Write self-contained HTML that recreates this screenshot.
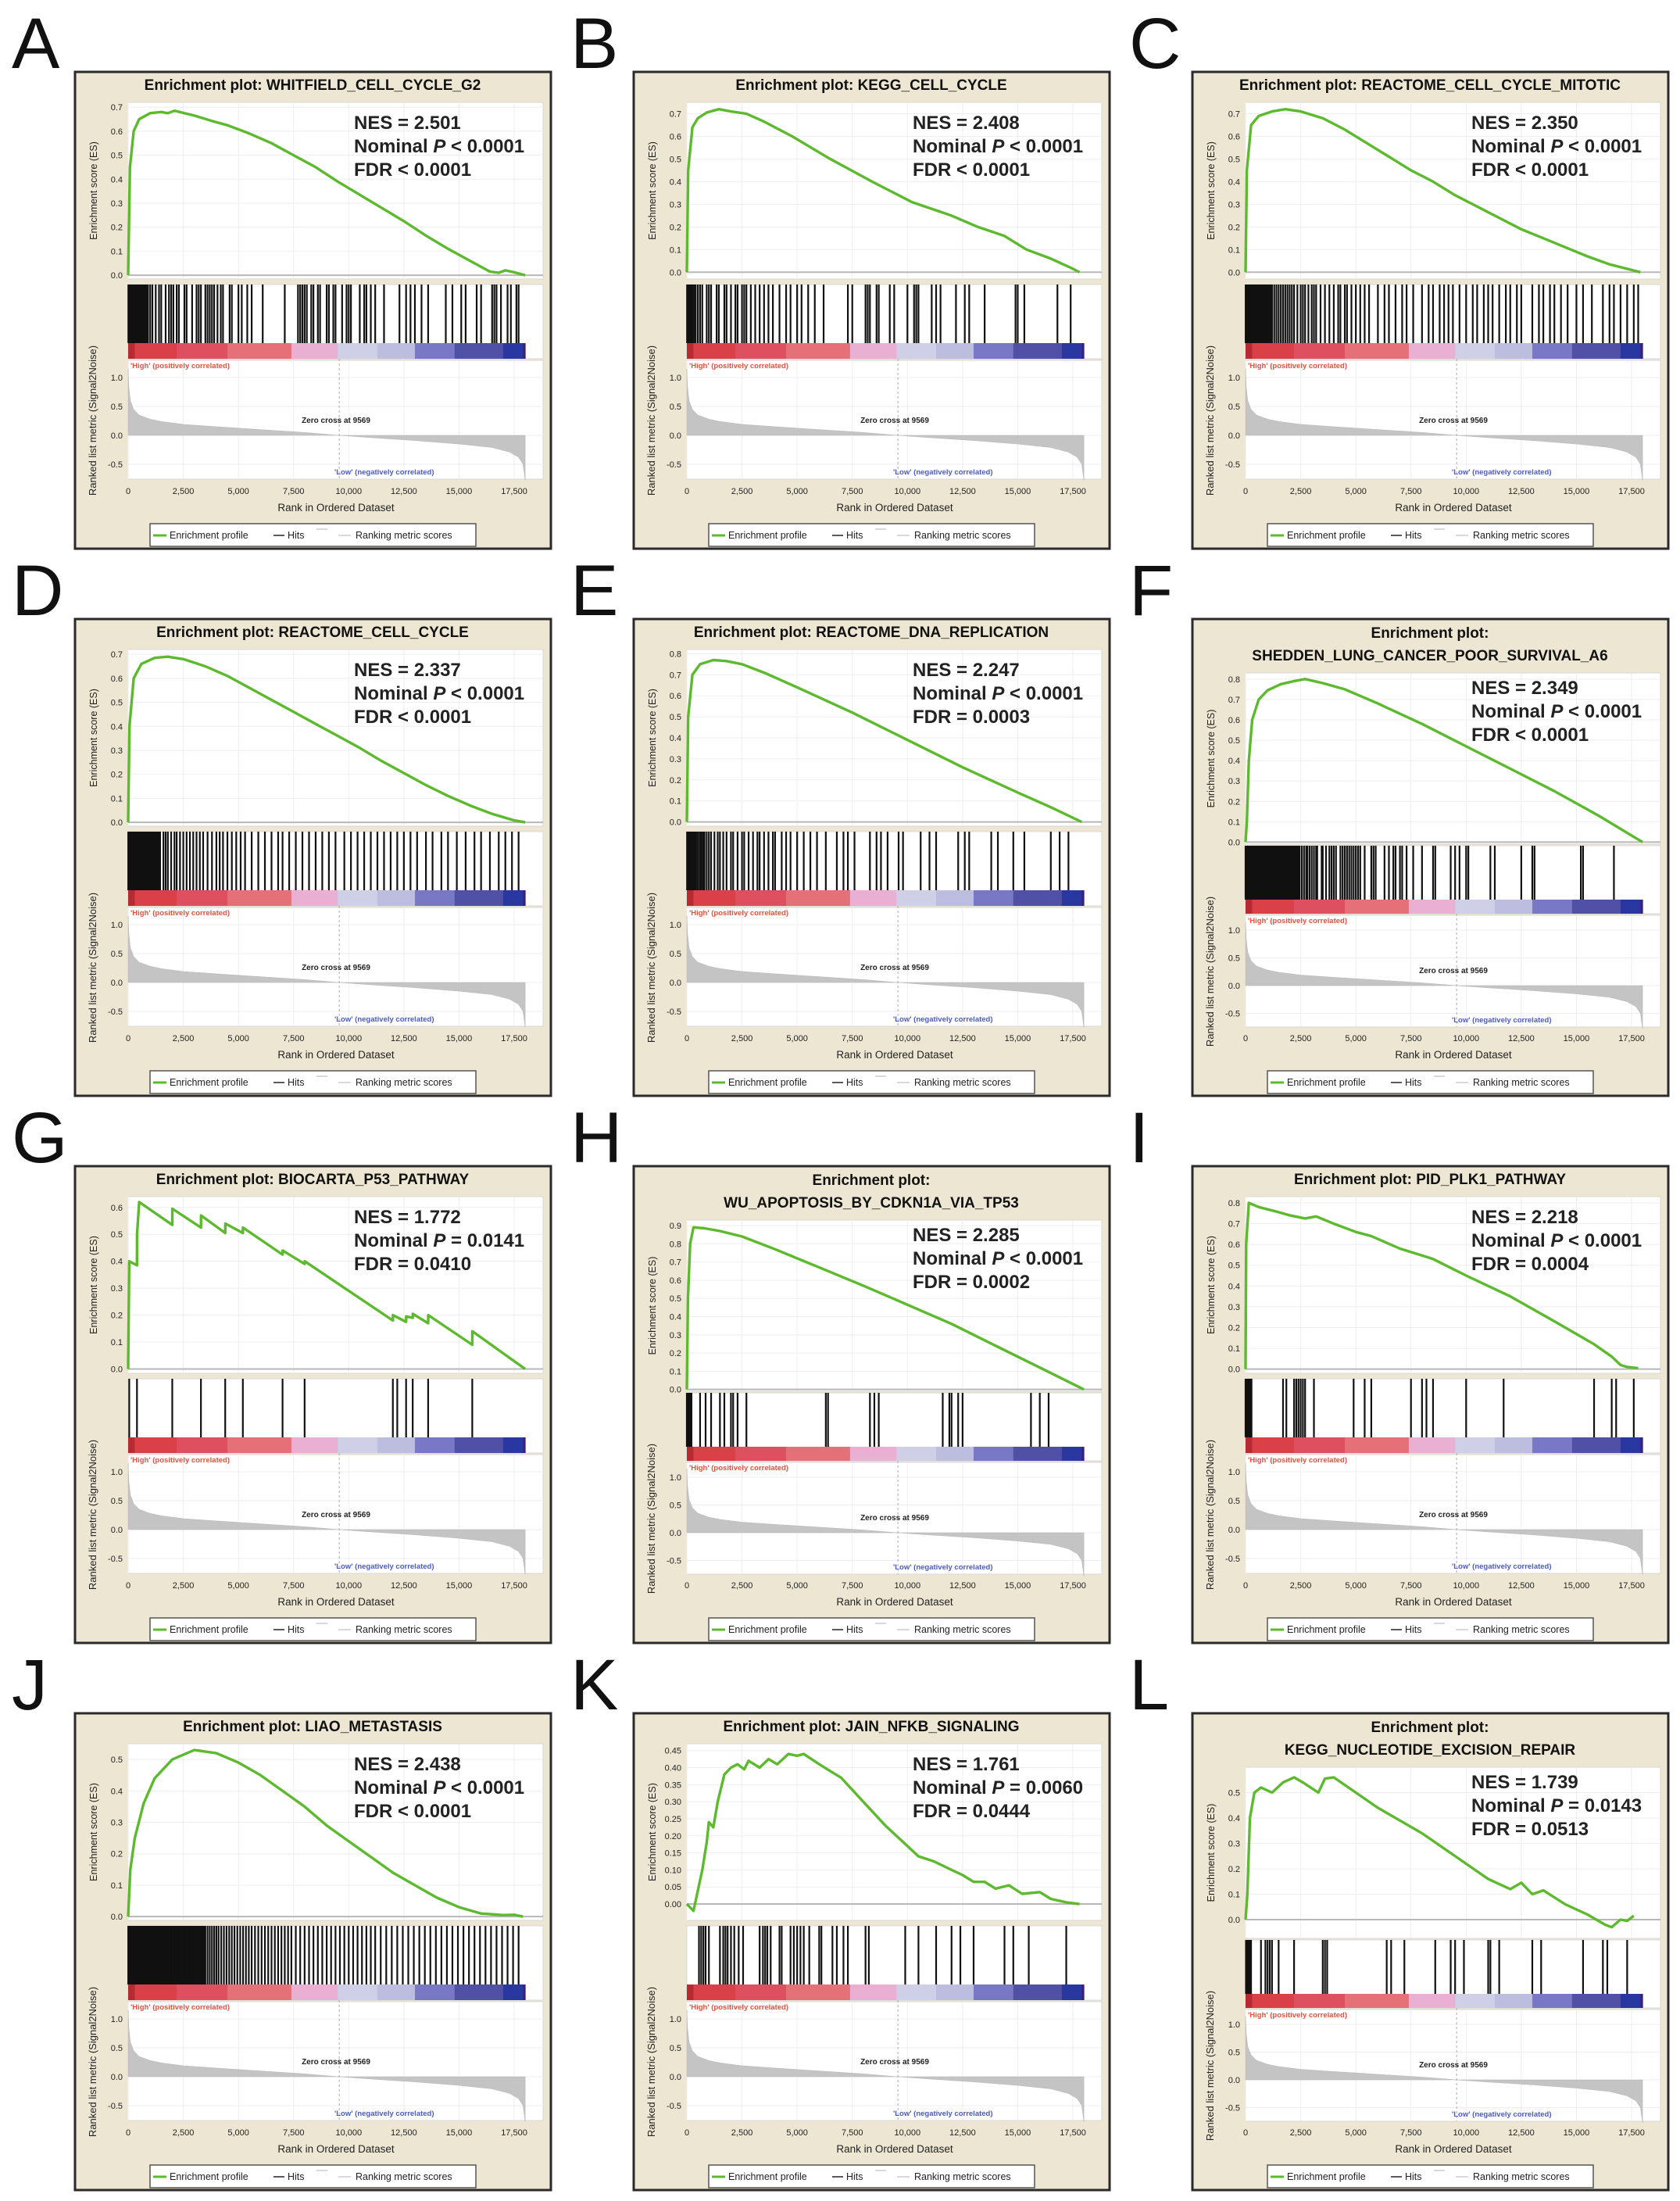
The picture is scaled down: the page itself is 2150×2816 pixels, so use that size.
<!DOCTYPE html>
<html><head><meta charset="utf-8"><style>
html,body{margin:0;padding:0;background:#fff}
svg{display:block}
text{font-family:"Liberation Sans",Arial,sans-serif}
</style></head><body>
<svg id="fig" xmlns="http://www.w3.org/2000/svg" width="2150" height="2816" viewBox="0 0 2150 2816"></svg>
<script>
// ---- shared data ----
const metricRanks = [0,30,100,250,500,1000,1500,2500,4000,6000,8000,9569,11000,13000,15000,16500,17300,17700,17900,18000];
const metricValues = [1.15,0.85,0.6,0.45,0.35,0.28,0.24,0.19,0.15,0.1,0.05,0,-0.04,-0.09,-0.15,-0.21,-0.29,-0.38,-0.5,-0.78];
const xTickValues = [0,2500,5000,7500,10000,12500,15000,17500];
const xTickLabels = ["0","2,500","5,000","7,500","10,000","12,500","15,000","17,500"];
const rTickValues = [1.0,0.5,0.0,-0.5];
const rTickLabels = ["1.0","0.5","0.0","-0.5"];
const barStops = [0,300,2200,4500,7400,9500,11300,13000,14800,17000,17900,18000];
const barColors = ["#b82a32","#d94048","#de5060","#e57078","#e9b0d4","#cfcfe8","#bdbde0","#7878c6","#5050a6","#2838a0","#3a1e80"];
const zeroCross = 9569;

// ---- per panel data ----
const esA = [[0,0],[80,0.45],[250,0.6],[500,0.65],[1000,0.675],[1500,0.68],[1800,0.675],[2100,0.685],[3000,0.665],[3900,0.64],[4500,0.625],[5500,0.59],[6500,0.55],[7500,0.5],[8500,0.45],[9500,0.39],[10500,0.335],[11500,0.28],[12500,0.225],[13500,0.165],[14500,0.11],[15500,0.06],[16400,0.015],[16800,0.01],[17100,0.02],[17500,0.012],[18000,0]];
const hitsA = [10,30,50,70,90,110,130,150,170,190,210,240,260,280,310,330,360,380,400,420,450,470,500,520,560,600,640,680,720,750,790,820,860,900,1000,1100,1250,1400,1500,1700,1850,1950,2050,2200,2300,2550,2650,2900,3100,3200,3300,3500,3600,3700,3800,3900,4050,4200,4300,4600,4700,5000,5150,5400,5600,6100,7100,7700,7800,7900,8000,8100,8300,8400,8600,8700,9000,9100,9300,9400,9700,9900,10000,10100,10500,10700,10800,11000,11200,11600,12300,12600,12800,13000,13300,13600,14400,14700,15100,15300,15800,16000,16500,16600,16700,16900,17200,17350,17600,17700];
const esB = [[0,0],[60,0.45],[250,0.64],[500,0.68],[900,0.705],[1450,0.72],[2000,0.71],[2700,0.7],[3500,0.665],[4780,0.6],[6500,0.5],[8400,0.4],[10200,0.31],[12000,0.25],[13200,0.2],[14400,0.16],[15400,0.1],[16500,0.06],[17400,0.02],[17800,0]];
const hitsB = [10,50,100,150,200,260,330,400,500,600,700,900,1000,1100,1350,1450,1700,1800,2000,2200,2300,2500,2600,2700,2900,3100,3300,3500,3700,3900,4200,4500,4700,5000,5200,5500,5800,6200,7300,7500,8100,8200,8300,8600,8700,9200,9400,10000,10300,10400,10500,11100,11300,11500,12200,12600,12800,13500,14900,15000,15300,16800,17400];
const esC = [[0,0],[60,0.45],[250,0.65],[600,0.69],[1200,0.71],[1800,0.72],[2500,0.71],[3500,0.68],[4500,0.63],[5500,0.57],[6500,0.51],[7500,0.45],[8500,0.4],[9500,0.34],[10500,0.29],[11500,0.24],[12500,0.19],[13500,0.15],[14500,0.11],[15500,0.07],[16500,0.035],[17500,0.01],[17900,0]];
const hitsC = [5,15,25,40,50,65,80,95,110,125,140,155,170,185,200,220,240,260,280,300,320,340,360,380,400,425,450,475,500,525,550,575,600,625,650,675,700,730,760,790,820,850,880,915,950,1000,1050,1100,1150,1200,1300,1400,1500,1600,1700,1800,1900,2000,2100,2200,2350,2500,2600,2700,2850,3000,3100,3200,3400,3600,3800,4000,4200,4300,4500,4600,4800,5000,5200,5400,5600,6000,6300,6500,6800,7100,7300,7600,8000,8300,8500,8800,9000,9200,9400,9700,10000,10300,10500,10800,11000,11200,11500,11800,12000,12300,12500,13000,13300,13500,13800,14000,14300,14600,15000,15300,15700,16200,16500,16700,17000,17300,17600,17800];
const esD = [[0,0],[60,0.4],[250,0.6],[600,0.66],[1200,0.685],[1800,0.69],[2500,0.68],[3500,0.65],[4500,0.61],[5500,0.56],[6500,0.51],[7500,0.46],[8500,0.41],[9500,0.36],[10500,0.31],[11500,0.255],[12500,0.205],[13500,0.155],[14500,0.11],[15500,0.07],[16500,0.035],[17500,0.008],[18000,0]];
const hitsD = [5,20,30,45,60,75,90,105,120,135,150,170,190,210,230,250,270,290,310,330,350,375,400,425,450,475,500,530,560,590,620,650,680,710,740,770,800,835,870,910,950,1000,1050,1100,1150,1200,1250,1300,1350,1400,1450,1600,1700,1800,1950,2100,2200,2350,2500,2650,2800,2950,3100,3250,3400,3600,3800,4000,4150,4300,4500,4700,4900,5100,5300,5600,5900,6200,6500,6800,7000,7300,7600,7900,8200,8500,8800,9100,9400,9800,10100,10400,10700,11000,11300,11600,11900,12200,12500,12800,13100,13500,13800,14200,14500,14900,15300,15700,16000,16400,16800,17100,17400,17700];
const esE = [[0,0],[60,0.5],[250,0.7],[600,0.75],[1200,0.77],[1800,0.765],[2500,0.75],[3500,0.71],[5000,0.64],[7500,0.52],[10000,0.39],[12500,0.26],[15000,0.14],[16500,0.07],[17900,0]];
const hitsE = [10,40,80,120,160,200,250,300,360,420,500,580,650,730,800,900,1000,1100,1250,1400,1500,1650,1800,2000,2100,2300,2500,2600,2800,3000,3200,3300,3500,3700,3900,4000,4300,4500,4700,5000,5300,5600,5900,6300,6800,7100,7300,7600,8300,8600,8800,9100,9600,9800,10600,11000,11300,12300,12600,12800,13800,14100,14800,15300,16500,16900,17300];
const esF = [[0,0],[60,0.1],[150,0.4],[300,0.6],[600,0.7],[1000,0.745],[1600,0.775],[2200,0.79],[2700,0.8],[3500,0.78],[4500,0.75],[6000,0.68],[8000,0.58],[10000,0.47],[12000,0.36],[14000,0.25],[16000,0.13],[18000,0]];
const hitsF = [0,20,40,60,80,100,120,140,160,180,200,220,240,260,280,300,320,340,360,380,400,420,440,460,480,500,520,540,560,580,600,620,640,660,680,700,720,740,760,780,800,820,840,860,880,900,920,940,960,980,1000,1025,1050,1075,1100,1125,1150,1175,1200,1225,1250,1275,1300,1325,1350,1375,1400,1425,1450,1475,1500,1525,1550,1575,1600,1625,1650,1675,1700,1725,1750,1775,1800,1825,1850,1875,1900,1925,1950,1975,2000,2025,2050,2075,2100,2125,2150,2175,2200,2250,2300,2350,2400,2450,2550,2650,2750,2800,2900,3000,3100,3200,3250,3450,3500,3650,3800,3900,4000,4100,4300,4400,4500,4600,4700,4800,4900,5000,5100,5200,5400,5700,5800,5900,6300,6500,6700,6800,7000,7100,7300,7600,8000,8500,8600,9300,9500,9700,10000,10100,11100,11300,12500,13000,13100,15200,15300,16700];
const esG = [[0,0],[50,0.4],[400,0.385],[405,0.5],[500,0.62],[2000,0.535],[2005,0.595],[3300,0.525],[3305,0.57],[4400,0.505],[4405,0.54],[5200,0.505],[5205,0.525],[7000,0.425],[7005,0.44],[8000,0.39],[8005,0.4],[12000,0.18],[12005,0.2],[12600,0.175],[12605,0.195],[12900,0.19],[12905,0.205],[13600,0.17],[13605,0.2],[15600,0.09],[15605,0.14],[18000,0]];
const hitsG = [50,400,2000,3300,4400,5200,7000,8000,12000,12200,12600,12900,13600,15600];
const esH = [[0,0],[50,0.5],[150,0.8],[300,0.89],[800,0.885],[1500,0.87],[2500,0.84],[4000,0.77],[6000,0.67],[8000,0.57],[10000,0.465],[12000,0.36],[14000,0.24],[16000,0.12],[18000,0]];
const hitsH = [0,20,40,60,80,100,120,150,180,210,600,850,1100,1500,1700,2000,2100,2300,2700,6300,6400,8300,8500,8700,11600,11900,12000,12300,12500,15600,16000,16400];
const esI = [[0,0],[30,0.6],[150,0.8],[600,0.78],[1500,0.755],[2000,0.74],[2700,0.725],[3200,0.735],[4000,0.7],[5000,0.66],[5700,0.64],[7000,0.58],[8500,0.53],[10000,0.45],[12000,0.35],[14000,0.23],[15800,0.12],[16600,0.06],[17000,0.02],[17300,0.01],[17800,0.005]];
const hitsI = [0,30,60,90,120,150,180,210,240,270,1700,1850,2200,2300,2400,2500,2600,2700,3100,4900,5400,5700,7500,8000,8200,8500,10000,11700,15800,16600,16800,17600];
const esJ = [[0,0],[100,0.15],[300,0.25],[700,0.36],[1200,0.44],[2000,0.5],[3000,0.53],[4000,0.52],[5000,0.49],[6000,0.45],[7000,0.4],[8000,0.35],[9000,0.29],[10000,0.24],[11000,0.19],[12000,0.14],[13000,0.1],[14000,0.06],[15000,0.03],[16000,0.01],[17000,0.005],[17500,0.006],[17900,0]];
const hitsJ = [5,20,40,60,80,100,120,140,160,180,200,220,240,260,280,300,320,340,360,380,400,425,450,475,500,525,550,575,600,625,650,675,700,725,750,775,800,825,850,875,900,925,950,975,1000,1030,1060,1090,1120,1150,1180,1210,1240,1270,1300,1335,1370,1405,1440,1475,1510,1545,1580,1615,1650,1685,1720,1760,1800,1840,1880,1920,1960,2000,2040,2080,2120,2160,2200,2240,2280,2320,2360,2400,2450,2500,2540,2590,2630,2680,2720,2770,2810,2860,2900,2950,3000,3050,3100,3150,3200,3250,3300,3350,3400,3450,3500,3600,3700,3800,3900,4000,4100,4220,4340,4460,4580,4700,4820,4950,5080,5210,5340,5470,5600,5750,5900,6050,6200,6350,6500,6650,6800,6950,7100,7250,7400,7600,7800,8000,8200,8400,8600,8800,9000,9200,9400,9600,9800,10000,10200,10400,10600,10800,11000,11200,11450,11700,11950,12200,12450,12700,12950,13200,13450,13700,13950,14200,14450,14700,14950,15200,15450,15700,15950,16200,16450,16700,16950,17200,17450,17700];
const esK = [[0,0],[300,-0.02],[700,0.1],[900,0.18],[1000,0.24],[1200,0.225],[1400,0.3],[1700,0.38],[2000,0.4],[2300,0.41],[2600,0.395],[2800,0.42],[3300,0.4],[3700,0.425],[4100,0.41],[4600,0.44],[5000,0.435],[5300,0.44],[6000,0.41],[6500,0.39],[7000,0.37],[8000,0.3],[9000,0.23],[10000,0.17],[10500,0.14],[11200,0.125],[12000,0.1],[12500,0.085],[13000,0.065],[13500,0.065],[14000,0.045],[14600,0.055],[15200,0.03],[16000,0.035],[16500,0.015],[17200,0.005],[17800,0]];
const hitsK = [550,650,750,850,1000,1500,1650,1750,1850,2000,2150,2350,2550,3300,3450,3550,3650,3800,4200,4300,4700,4850,5000,5150,5300,5550,6000,6100,6600,6800,7100,7300,8100,8250,9900,10500,11300,12000,12400,13000,14400,14800,15500,17200];
const esL = [[0,0],[80,0.1],[200,0.4],[400,0.5],[700,0.52],[1200,0.5],[1700,0.54],[2200,0.56],[2600,0.54],[3300,0.5],[3600,0.555],[4000,0.56],[5000,0.5],[6000,0.44],[7000,0.39],[8000,0.34],[9000,0.28],[10000,0.22],[11000,0.16],[12000,0.12],[12500,0.145],[13000,0.1],[13500,0.115],[14500,0.06],[15500,0.02],[16300,-0.02],[16600,-0.03],[17000,0.0],[17300,-0.005],[17600,0.015]];
const hitsL = [20,60,100,150,200,250,700,900,1000,1100,1200,1500,2200,3500,3600,3700,6400,6600,7200,8600,9300,9500,9900,11000,11100,11500,13000,13400,15300,16200,16400,17300];

// ---- panel config ----
const panels = [
 {L:"A",t:["Enrichment plot: WHITFIELD_CELL_CYCLE_G2"],s:["NES = 2.501","< 0.0001","FDR < 0.0001"],es:esA,h:hitsA,top:.72,min:-.016,mt:.7,st:.1,d:1},
 {L:"B",t:["Enrichment plot: KEGG_CELL_CYCLE"],s:["NES = 2.408","< 0.0001","FDR < 0.0001"],es:esB,h:hitsB,top:.75,min:-.03,mt:.7,st:.1,d:1},
 {L:"C",t:["Enrichment plot: REACTOME_CELL_CYCLE_MITOTIC"],s:["NES = 2.350","< 0.0001","FDR < 0.0001"],es:esC,h:hitsC,top:.75,min:-.03,mt:.7,st:.1,d:1},
 {L:"D",t:["Enrichment plot: REACTOME_CELL_CYCLE"],s:["NES = 2.337","< 0.0001","FDR < 0.0001"],es:esD,h:hitsD,top:.72,min:-.016,mt:.7,st:.1,d:1},
 {L:"E",t:["Enrichment plot: REACTOME_DNA_REPLICATION"],s:["NES = 2.247","< 0.0001","FDR = 0.0003"],es:esE,h:hitsE,top:.82,min:-.02,mt:.8,st:.1,d:1},
 {L:"F",t:["Enrichment plot:","SHEDDEN_LUNG_CANCER_POOR_SURVIVAL_A6"],s:["NES = 2.349","< 0.0001","FDR < 0.0001"],es:esF,h:hitsF,top:.83,min:-.01,mt:.8,st:.1,d:1},
 {L:"G",t:["Enrichment plot: BIOCARTA_P53_PATHWAY"],s:["NES = 1.772","= 0.0141","FDR = 0.0410"],es:esG,h:hitsG,top:.64,min:-.016,mt:.6,st:.1,d:1},
 {L:"H",t:["Enrichment plot:","WU_APOPTOSIS_BY_CDKN1A_VIA_TP53"],s:["NES = 2.285","< 0.0001","FDR = 0.0002"],es:esH,h:hitsH,top:.93,min:-.01,mt:.9,st:.1,d:1},
 {L:"I",t:["Enrichment plot: PID_PLK1_PATHWAY"],s:["NES = 2.218","< 0.0001","FDR = 0.0004"],es:esI,h:hitsI,top:.83,min:-.02,mt:.8,st:.1,d:1},
 {L:"J",t:["Enrichment plot: LIAO_METASTASIS"],s:["NES = 2.438","< 0.0001","FDR < 0.0001"],es:esJ,h:hitsJ,top:.55,min:-.012,mt:.5,st:.1,d:1},
 {L:"K",t:["Enrichment plot: JAIN_NFKB_SIGNALING"],s:["NES = 1.761","= 0.0060","FDR = 0.0444"],es:esK,h:hitsK,top:.47,min:-.048,mt:.45,st:.05,d:2},
 {L:"L",t:["Enrichment plot:","KEGG_NUCLEOTIDE_EXCISION_REPAIR"],s:["NES = 1.739","= 0.0143","FDR = 0.0513"],es:esL,h:hitsL,top:.6,min:-.074,mt:.5,st:.1,d:1}
];
const colX = [95,810,1525], rowY = [91,791,1491,2191];
const NS = "http://www.w3.org/2000/svg";
const svg = document.getElementById("fig");
function el(tag, attrs, parent, txt){
  const e = document.createElementNS(NS, tag);
  for (const k in attrs) e.setAttribute(k, attrs[k]);
  if (txt !== undefined) e.textContent = txt;
  parent.appendChild(e);
  return e;
}
const xs = r => 69 + r * 0.02823;

panels.forEach((p, i) => {
  const px = colX[i % 3], py = rowY[Math.floor(i / 3)];
  const two = p.t.length > 1;
  const lay = two ? {esTop:70,esBot:289,hTop:291,hBot:360,cTop:360,cBot:378,rTop:380,rBot:523,r1:399,r0:470,nes:97}
                  : {esTop:40,esBot:266,hTop:273,hBot:348,cTop:348,cBot:368,rTop:370,rBot:522,r1:392,r0:466,nes:74};
  const letter = el("text",{x:px-80,y:py-4,"font-size":92,fill:"#111"},svg,p.L);
  
  
  const g = el("g",{transform:`translate(${px},${py})`},svg);
  
  
  const frame = el("rect",{x:1,y:1,width:609,height:610,fill:"#ede6d3",stroke:"#2a2a2a","stroke-width":3},g);
  
  
  p.t.forEach((line, k) => {
    const tt = el("text",{x:305,y:two?(25+k*29):24,"text-anchor":"middle","font-size":19,"font-weight":"bold",fill:"#111"},g,line);
    
    
  });
  const esBox = el("rect",{x:69,y:lay.esTop,width:531,height:lay.esBot-lay.esTop,fill:"#fff",stroke:"#d8d8d8"},g);
  
  
  const hBox = el("rect",{x:69,y:lay.hTop,width:531,height:lay.cBot-lay.hTop,fill:"#fff",stroke:"#d8d8d8"},g);
  
  
  const rBox = el("rect",{x:69,y:lay.rTop,width:531,height:lay.rBot-lay.rTop,fill:"#fff",stroke:"#d8d8d8"},g);
  
  
  const ys = v => lay.esTop + (p.top - v) / (p.top - p.min) * (lay.esBot - lay.esTop);
  const yr = v => lay.r0 - v * (lay.r0 - lay.r1);
  xTickValues.forEach((v, k) => {
    const gl = el("line",{x1:xs(v),x2:xs(v),y1:lay.esTop,y2:lay.esBot,stroke:"#eeeeee"},g);
    
    
    const gl2 = el("line",{x1:xs(v),x2:xs(v),y1:lay.rTop,y2:lay.rBot,stroke:"#eeeeee"},g);
    
    
    const tl = el("text",{x:xs(v),y:541,"text-anchor":"middle","font-size":11,fill:"#222"},g,xTickLabels[k]);
    
    
  });
  const nT = Math.round(p.mt / p.st);
  for (let k = 0; k <= nT; k++) {
    const v = k * p.st;
    const gl = el("line",{x1:69,x2:600,y1:ys(v),y2:ys(v),stroke:k===0?"#b8b8b8":"#eeeeee","stroke-width":k===0?2:1},g);
    
    
    const tl = el("text",{x:62,y:ys(v)+4,"text-anchor":"end","font-size":11,fill:"#222"},g,v.toFixed(p.d));
    
    
  }
  rTickValues.forEach((v, k) => {
    const gl = el("line",{x1:69,x2:600,y1:yr(v),y2:yr(v),stroke:"#eeeeee"},g);
    
    
    const tl = el("text",{x:62,y:yr(v)+4,"text-anchor":"end","font-size":11,fill:"#222"},g,rTickLabels[k]);
    
    
  });
  let d = `M${xs(metricRanks[0])},${yr(0)}`;
  metricRanks.forEach((r, k) => { d += ` L${xs(r)},${yr(metricValues[k])}`; });
  d += ` L${xs(metricRanks[metricRanks.length-1])},${yr(0)} Z`;
  const area = el("path",{d:d,fill:"#c4c4c4",stroke:"#b8b8b8","stroke-width":0.5},g);
  
  
  const zl = el("line",{x1:xs(zeroCross),x2:xs(zeroCross),y1:lay.cBot,y2:lay.rBot,stroke:"#aaa","stroke-dasharray":"3,3"},g);
  
  
  barColors.forEach((c, k) => {
    const cb = el("rect",{x:xs(barStops[k]),y:lay.cTop,width:xs(barStops[k+1])-xs(barStops[k])+0.5,height:lay.cBot-lay.cTop,fill:c},g);
    
    
  });
  p.h.forEach(r => {
    const hl = el("line",{x1:xs(r),x2:xs(r),y1:lay.hTop,y2:lay.hBot,stroke:"#111","stroke-width":2.2},g);
    
    
  });
  const pts = p.es.map(q => `${xs(q[0]).toFixed(1)},${ys(q[1]).toFixed(1)}`).join(" ");
  const curve = el("polyline",{points:pts,fill:"none",stroke:"#5dba2f","stroke-width":3.4,"stroke-linejoin":"round"},g);
  
  
  const s1 = el("text",{x:358,y:lay.nes,"font-size":24,"font-weight":"bold",fill:"#222"},g,p.s[0]);
  
  
  const s2 = el("text",{x:358,y:lay.nes+30,"font-size":24,"font-weight":"bold",fill:"#222"},g);
  
  
  el("tspan",{},s2,"Nominal ");
  el("tspan",{"font-style":"italic"},s2,"P");
  el("tspan",{},s2," "+p.s[1]);
  const s3 = el("text",{x:358,y:lay.nes+60,"font-size":24,"font-weight":"bold",fill:"#222"},g,p.s[2]);
  
  
  const hi = el("text",{x:72,y:lay.cBot+12,"font-size":9.5,"font-weight":"bold",fill:"#e8503c"},g,"'High' (positively correlated)");
  
  
  const zc = el("text",{x:335,y:lay.r0-16,"text-anchor":"middle","font-size":10,"font-weight":"bold",fill:"#222"},g,"Zero cross at 9569");
  
  
  const lo = el("text",{x:333,y:lay.rBot-6,"font-size":9.5,"font-weight":"bold",fill:"#4a5ac8"},g,"'Low' (negatively correlated)");
  
  
  const ey = (lay.esTop + lay.esBot) / 2;
  const yt1 = el("text",{x:0,y:0,transform:`translate(29,${ey}) rotate(-90)`,"text-anchor":"middle","font-size":12.5,fill:"#222"},g,"Enrichment score (ES)");
  
  
  const yt2 = el("text",{x:0,y:0,transform:`translate(28,${two?452:447}) rotate(-90)`,"text-anchor":"middle","font-size":13,fill:"#222"},g,"Ranked list metric (Signal2Noise)");
  
  
  const xt = el("text",{x:335,y:563,"text-anchor":"middle","font-size":13.5,fill:"#222"},g,"Rank in Ordered Dataset");
  
  
  const lg = el("g",{},g);
  
  
  el("rect",{x:97,y:579,width:417,height:29,fill:"#fff",stroke:"#555","stroke-width":1.5},lg);
  el("line",{x1:101,x2:118,y1:594,y2:594,stroke:"#5dba2f","stroke-width":3},lg);
  const l1 = el("text",{x:122,y:598,"font-size":12.5,fill:"#222"},lg,"Enrichment profile");
  
  
  el("line",{x1:255,x2:269,y1:594,y2:594,stroke:"#222","stroke-width":1.5},lg);
  const l2 = el("text",{x:273,y:598,"font-size":12.5,fill:"#222"},lg,"Hits");
  
  
  el("line",{x1:310,x2:324,y1:586,y2:586,stroke:"#ccc","stroke-width":1.5},lg);
  el("line",{x1:338,x2:354,y1:594,y2:594,stroke:"#ccc","stroke-width":1.5},lg);
  const l3 = el("text",{x:360,y:598,"font-size":12.5,fill:"#222"},lg,"Ranking metric scores");
  
  
});
</script>
</body></html>
